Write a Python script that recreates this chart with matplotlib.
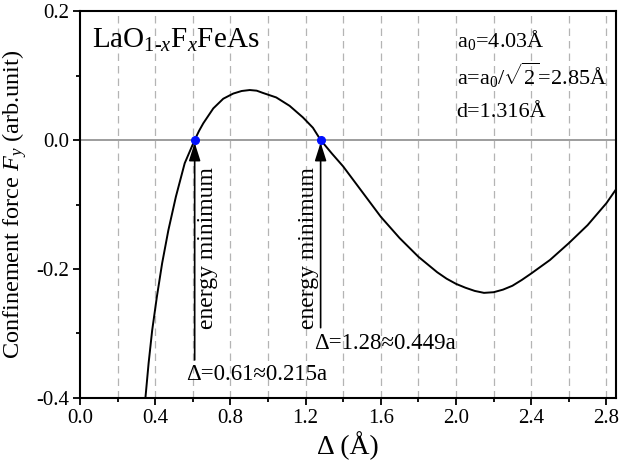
import matplotlib
matplotlib.use("Agg")
import matplotlib.pyplot as plt
from matplotlib.ticker import MultipleLocator

plt.rcParams['font.family'] = ['Liberation Serif', 'DejaVu Serif']
plt.rcParams['mathtext.fontset'] = 'custom'
plt.rcParams['mathtext.rm'] = 'Liberation Serif'
plt.rcParams['mathtext.it'] = 'Liberation Serif:italic'

# confinement force curve
delta = [0.348, 0.365, 0.384, 0.409, 0.437, 0.47, 0.51, 0.557, 0.585, 0.61,
         0.633, 0.656, 0.709, 0.762, 0.815, 0.86, 0.903, 0.94, 0.973, 1.044,
         1.115, 1.186, 1.239, 1.28, 1.34, 1.4, 1.5, 1.6, 1.7, 1.8,
         1.9, 1.95, 2.0, 2.05, 2.1, 2.149, 2.2, 2.25, 2.3, 2.35,
         2.4, 2.5, 2.6, 2.7, 2.8, 2.85]
force = [-0.4, -0.346, -0.295, -0.243, -0.191, -0.14, -0.088, -0.036, -0.017, 0.0,
         0.014, 0.026, 0.049, 0.064, 0.072, 0.076, 0.0775, 0.0765, 0.073, 0.066,
         0.053, 0.035, 0.019, 0.0, -0.021, -0.041, -0.080, -0.119, -0.152, -0.181,
         -0.205, -0.215, -0.223, -0.229, -0.234, -0.237, -0.236, -0.232, -0.226, -0.217,
         -0.207, -0.186, -0.160, -0.132, -0.098, -0.077]

minima = [0.61, 1.28]
minima_labels = ["Δ=0.61≈0.215a", "Δ=1.28≈0.449a"]

fig = plt.figure(figsize=(6.22, 4.71), dpi=100)
ax = fig.add_axes([0.1286, 0.155, 0.8614, 0.8216])

for gx in [0.2 * i for i in range(1, 15)]:
    ax.axvline(gx, color='#b4b4b4', lw=0.9, ls=(0, (6, 4)), zorder=0)
ax.axhline(0, color='#8c8c8c', lw=1.2, zorder=1)

ax.plot(delta, force, color='black', lw=1.4, zorder=2)
ax.plot(minima, [0, 0], 'o', color='#0010ff', ms=5.5, zorder=4)

# arrows and labels
ax.annotate('', xy=(minima[0], -0.004), xytext=(minima[0], -0.341),
            arrowprops=dict(arrowstyle='-|>,head_length=1.1,head_width=0.35',
                            color='black', lw=1.2, shrinkA=0, shrinkB=0))
ax.annotate('', xy=(minima[1], -0.004), xytext=(minima[1], -0.291),
            arrowprops=dict(arrowstyle='-|>,head_length=1.1,head_width=0.35',
                            color='black', lw=1.2, shrinkA=0, shrinkB=0))
ax.text(0.678, -0.168, 'energy minimum', rotation=90, ha='center', va='center', fontsize=17)
ax.text(1.214, -0.168, 'energy minimum', rotation=90, ha='center', va='center', fontsize=17)
ax.text(0.565, -0.363, minima_labels[0], ha='left', va='center', fontsize=16.5)
ax.text(1.245, -0.315, minima_labels[1], ha='left', va='center', fontsize=16.5)

ax.text(0.064, 0.143, r'LaO$_{\mathrm{1\text{-}}x}$F$_x$FeAs', ha='left', va='baseline', fontsize=21)
ax.text(2.003, 0.155, r'a$_0$=4.03Å', ha='left', va='center', fontsize=16)
ax.text(2.003, 0.1, r'a=a$_0$/$\sqrt{2}$=2.85Å', ha='left', va='center', fontsize=16)
ax.text(2.003, 0.043, 'd=1.316Å', ha='left', va='center', fontsize=16)

ax.set_xlim(0, 2.85)
ax.set_ylim(-0.4, 0.2)
ax.xaxis.set_major_locator(MultipleLocator(0.4))
ax.xaxis.set_minor_locator(MultipleLocator(0.2))
ax.yaxis.set_major_locator(MultipleLocator(0.2))
ax.yaxis.set_minor_locator(MultipleLocator(0.1))
ax.xaxis.set_major_formatter(lambda v, p: f"{v:.1f}")
ax.yaxis.set_major_formatter(lambda v, p: f"{v:.1f}")
ax.tick_params(which='major', direction='out', length=5, width=1.3, labelsize=15, pad=3)
ax.tick_params(which='minor', direction='out', length=3, width=1.3)
for s in ax.spines.values():
    s.set_linewidth(1.5)

ax.set_xlabel('Δ (Å)', fontsize=20, labelpad=2)
ax.set_ylabel(r'Confinement force $F_y$ (arb.unit)', fontsize=17.5, labelpad=5)

fig.savefig('out.png', dpi=100)
